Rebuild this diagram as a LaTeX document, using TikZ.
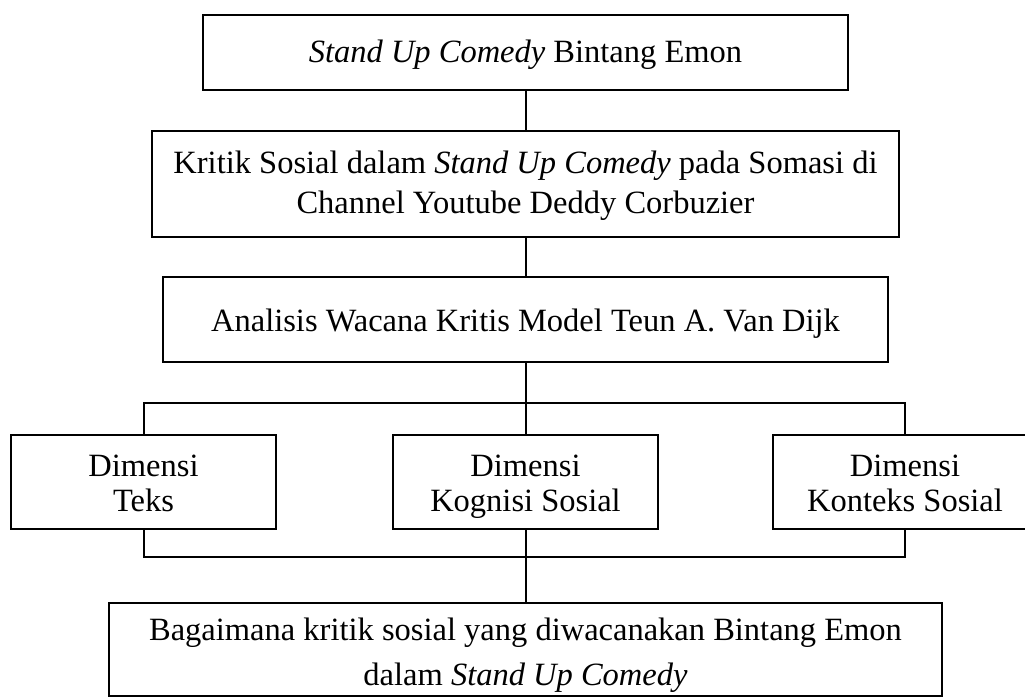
\documentclass[tikz,border=0pt]{standalone}
\usepackage{fontspec}
\setmainfont{Liberation Serif}
\newcommand\toprl[1]{\rule{0pt}{#1pt}}
\newcommand\botrl{\rule[-4pt]{0pt}{4pt}}
\begin{document}
\begin{tikzpicture}[x=0.4pt,y=-0.4pt,
  box/.style={draw,line width=0.8pt,inner sep=0pt,align=center,font=\fontsize{13}{16}\selectfont},
  dimbox/.style={box,minimum width=106pt,minimum height=37.6pt,font=\fontsize{13}{14}\selectfont},
  link/.style={line width=0.8pt}]
\path[use as bounding box] (0,0) rectangle (1025,699);
\clip (0,0) rectangle (1025,699);
\node[box,minimum width=258pt,minimum height=30pt] (b1) at (525.5,52.5) {\toprl{12.4}\textit{Stand Up Comedy} Bintang Emon\botrl};
\node[box,minimum width=298.4pt,minimum height=42.4pt] (b2) at (525.5,184) {\toprl{11.2}Kritik Sosial dalam \textit{Stand Up Comedy} pada Somasi di\\Channel Youtube Deddy Corbuzier\botrl};
\node[box,minimum width=290pt,minimum height=34pt] (b3) at (525.5,319.5) {\toprl{13.2}Analisis Wacana Kritis Model Teun A. Van Dijk\botrl};
\node[dimbox] (b4) at (143.5,482) {\toprl{13.6}Dimensi\\Teks\botrl};
\node[dimbox] (b5) at (525.5,482) {\toprl{13.6}Dimensi\\Kognisi Sosial\botrl};
\node[dimbox] (b6) at (905,482) {\toprl{13.6}Dimensi\\Konteks Sosial\botrl};
\node[box,minimum width=333.2pt,minimum height=37.2pt,font=\fontsize{13}{18}\selectfont] (b7) at (525.5,649.5) {\toprl{14.4}Bagaimana kritik sosial yang diwacanakan Bintang Emon\\dalam \textit{Stand Up Comedy}\botrl};
\coordinate (tl) at (143.5,403);
\coordinate (tr) at (905,403);
\coordinate (bl) at (143.5,557);
\coordinate (br) at (905,557);
\draw[link] (b1.south) -- (b2.north);
\draw[link] (b2.south) -- (b3.north);
\draw[link] (b3.south) -- (b5.north);
\draw[link] (b4.north) -- (tl) -- (tr) -- (b6.north);
\draw[link] (b4.south) -- (bl) -- (br) -- (b6.south);
\draw[link] (b5.south) -- (b7.north);
\end{tikzpicture}
\end{document}
